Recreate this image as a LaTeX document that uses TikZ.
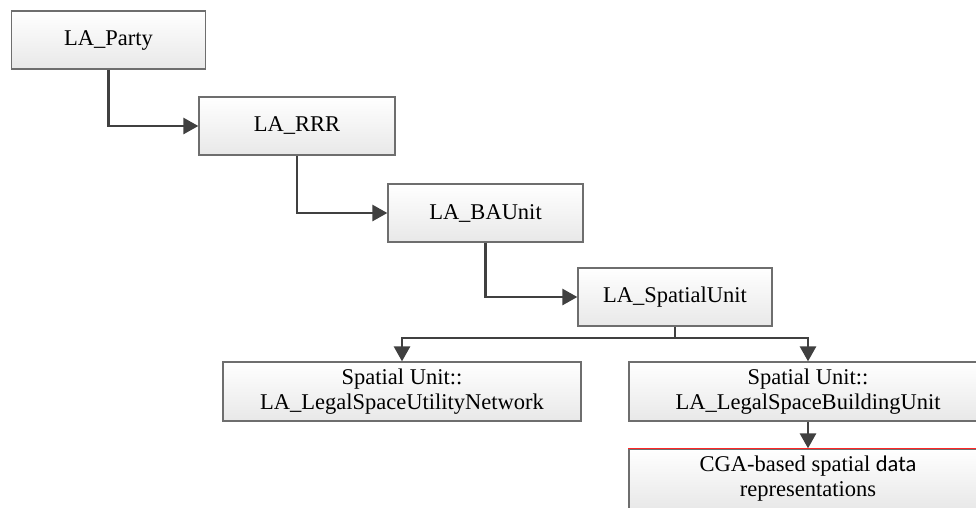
\documentclass[tikz,border=0pt]{standalone}
\usepackage{fontspec}
\setmainfont{Liberation Serif}
\newfontfamily\databodyfont{Carlito}
\usetikzlibrary{arrows.meta}
\definecolor{boxgray}{HTML}{6E6E6E}
\definecolor{linkgray}{HTML}{404040}

\begin{document}
\begin{tikzpicture}[x=1pt,y=-1pt,
    box/.style={draw=boxgray, line width=1.3pt, top color=white, bottom color=gray!18,
      minimum height=58pt, inner sep=0pt, align=center,
      font=\fontsize{22.5}{25}\selectfont},
    link/.style={draw=linkgray, line width=2.8pt, -{Triangle[length=15pt,width=16pt]}}]
  \path[use as bounding box] (0,0) rectangle (976,507);
  \clip (0,0) rectangle (976,507);

  % staircase of classes
  \node[box, minimum width=194pt] (party) at (108.5,40) {LA\_Party};
  \node[box, minimum width=196pt] (rrr) at (297,126) {LA\_RRR};
  \node[box, minimum width=195pt] (baunit) at (485.5,213) {LA\_BAUnit};
  \node[box, minimum width=194pt] (spatial) at (675,297) {LA\_SpatialUnit};

  % specialisations
  \node[box, minimum width=358pt, minimum height=59pt] (utility) at (402,391.5)
    {Spatial Unit::\\LA\_LegalSpaceUtilityNetwork};
  \node[box, minimum width=358pt, minimum height=59pt] (building) at (808,391.5)
    {Spatial Unit::\\LA\_LegalSpaceBuildingUnit};
  \node[box, minimum width=358pt, minimum height=60pt] (cga) at (808,479)
    {CGA-based spatial {\databodyfont data}\\representations};
  \draw[red!85, line width=1.3pt] (cga.north west) -- (cga.north east);

  \foreach \a/\b in {party/rrr, rrr/baunit, baunit/spatial}
    \draw[link] (\a.south) |- (\b.west);

  \coordinate (fork) at (675,338);
  \draw[linkgray, line width=2.8pt] (spatial.south) -- (fork);
  \foreach \n in {utility,building}
    \draw[link] (fork) -| (\n.north);
  \draw[link] (building.south) -- (cga.north);
\end{tikzpicture}
\end{document}
